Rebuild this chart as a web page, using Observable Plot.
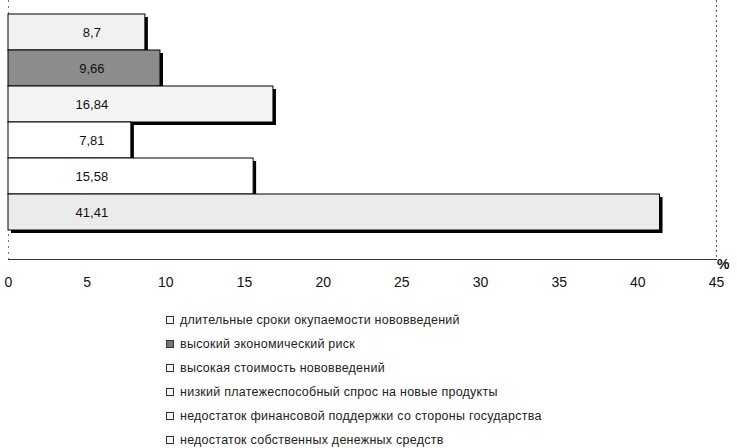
<!DOCTYPE html>
<html>
<head>
<meta charset="utf-8">
<script src="https://cdn.jsdelivr.net/npm/d3@7"></script>
<script src="https://cdn.jsdelivr.net/npm/@observablehq/plot@0.6"></script>
<style>
  body { margin: 0; background: #fff; font-family: "Liberation Sans", Arial, sans-serif; }
  #legend { padding-top: 8px; padding-left: 166px; color: #222; font-size: 12.5px; }
  .item { height: 24px; line-height: 24px; display: flex; align-items: center; white-space: nowrap; letter-spacing: 0.25px; }
  .sw { width: 6px; height: 6px; border: 1px solid #333; margin-right: 6px; display: inline-block; }
</style>
</head>
<body>
<div id="chart"></div>
<div id="legend"></div>
<script>
const categories = [
  "длительные сроки окупаемости нововведений",
  "высокий экономический риск",
  "высокая стоимость нововведений",
  "низкий платежеспособный спрос на новые продукты",
  "недостаток финансовой поддержки со стороны государства",
  "недостаток собственных денежных средств"
];
const values = [8.7, 9.66, 16.84, 7.81, 15.58, 41.41];
const valueLabels = ["8,7", "9,66", "16,84", "7,81", "15,58", "41,41"];
const fills = ["#f1f1f1", "#8c8c8c", "#f4f4f4", "#ffffff", "#ffffff", "#ebebeb"];
const xTicks = [0, 5, 10, 15, 20, 25, 30, 35, 40, 45];

const data = categories.map((c, i) => ({cat: c, value: values[i], label: valueLabels[i], fill: fills[i]}));

const chart = Plot.plot({
  width: 737,
  height: 300,
  marginTop: 0,
  marginLeft: 8,
  marginRight: 21,
  marginBottom: 41,
  style: {fontFamily: "Liberation Sans, Arial, sans-serif", fontSize: "14px", color: "#111"},
  x: {domain: [0, 45], ticks: xTicks, tickSize: 0, tickPadding: 18, label: null, tickFormat: d => String(d)},
  y: {domain: categories, paddingInner: 0, paddingOuter: 0.548, align: 0.325, axis: null},
  marks: [
    Plot.frame({anchor: "right", stroke: "#555", strokeDasharray: "1,4"}),
    Plot.frame({anchor: "left", stroke: "#777", strokeDasharray: "1,5"}),
    Plot.frame({anchor: "bottom", stroke: "#333", strokeDasharray: "4,1,1,1"}),
    Plot.barX(data, {y: "cat", x: "value", fill: "#000", dx: 3, dy: 3}),
    Plot.barX(data, {y: "cat", x: "value", fill: "fill", stroke: "#000", strokeWidth: 1}),
    Plot.text(data, {y: "cat", x: () => 5.3, text: "label", fill: "#111", fontSize: 13}),
    Plot.text(["%"], {frameAnchor: "bottom-right", dx: 13, dy: 9, fontWeight: "bold", fontSize: 14, fill: "#111"})
  ]
});
document.getElementById("chart").appendChild(chart);

const legend = document.getElementById("legend");
categories.forEach((c, i) => {
  const row = document.createElement("div");
  row.className = "item";
  const sw = document.createElement("span");
  sw.className = "sw";
  sw.style.background = i === 1 ? "#777" : "#f4f4f4";
  row.appendChild(sw);
  row.appendChild(document.createTextNode(c));
  legend.appendChild(row);
});
</script>
</body>
</html>
